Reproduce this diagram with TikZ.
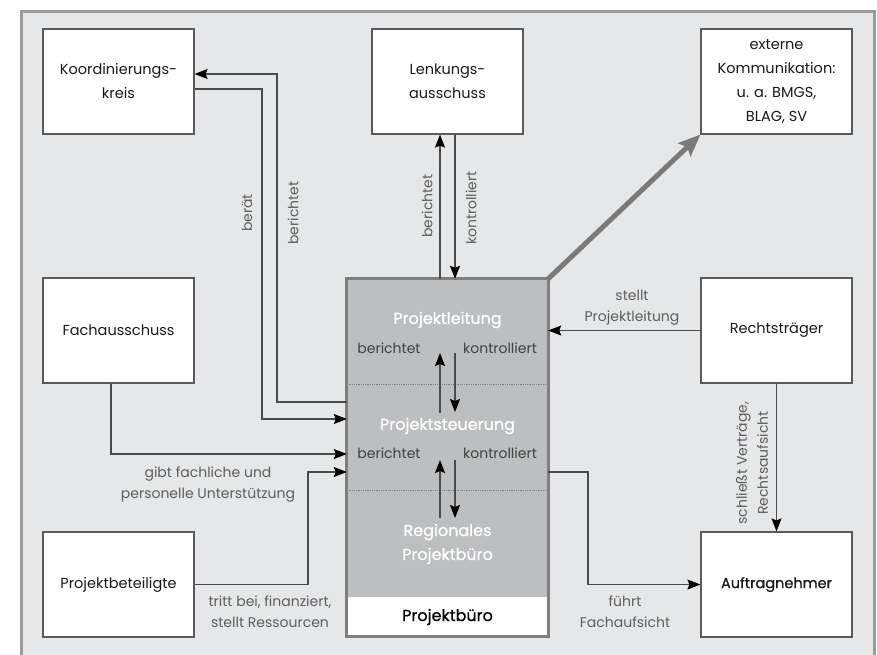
\documentclass[tikz,border=0pt]{standalone}
\usepackage{fontspec}
\setmainfont{Poppins}
\newfontfamily\medfont[FakeBold=0.7]{Poppins}
\usetikzlibrary{arrows.meta,calc}
\definecolor{bgc}{HTML}{E6E7E8}
\definecolor{framec}{HTML}{9B9B9B}
\definecolor{boxc}{HTML}{5A5A5A}
\definecolor{linec}{HTML}{4A4A4A}
\definecolor{labc}{HTML}{5E5E5E}
\definecolor{pbc}{HTML}{BCBEC0}
\definecolor{pbborder}{HTML}{7F7F7F}
\definecolor{thickc}{HTML}{7A7A7A}
\begin{document}
\begin{tikzpicture}[x=1pt,y=-1pt,
  box/.style={draw=boxc,line width=1.2pt,fill=white,minimum width=151pt,minimum height=105pt,inner sep=0pt,align=center,font=\fontsize{14.5}{24}\selectfont,text=black!90},
  conn/.style={draw=linec,line width=1.1pt,-{Stealth[length=13pt,width=10pt,inset=2pt,color=black]}},
  thickarrow/.style={draw=thickc,line width=5pt,-{Stealth[length=22pt,width=18pt,inset=4pt]}},
  lbl/.style={font=\fontsize{14}{21}\selectfont,text=labc,align=center,inner sep=0pt},
  title/.style={font=\medfont\fontsize{16}{24}\selectfont,text=white,align=center,inner sep=0pt},
  sepline/.style={draw=pbborder,line width=0.8pt,densely dotted},
]
\useasboundingbox (0,0) rectangle (877,654);
\clip (0,0) rectangle (877,654);
\fill[white] (0,0) rectangle (877,654);
\draw[draw=framec,fill=bgc,line width=3pt] (21,11) rectangle (874,680);

% outer boxes
\node[box] (kk) at (118.5,81.5) {Koordinierungs-\\kreis};
\node[box] (la) at (447.5,81.5) {Lenkungs-\\ausschuss};
\node[box] (ek) at (776.5,81.5) {externe\\Kommunikation:\\u. a. BMGS,\\BLAG, SV};
\node[box] (fa) at (118.5,330.5) {Fachausschuss};
\node[box] (rt) at (776.5,330.5) {Rechtsträger};
\node[box] (pbt) at (118.5,584.5) {Projektbeteiligte};
\node[box,font=\medfont\fontsize{14.5}{24}\selectfont] (an) at (776.5,584.5) {Auftragnehmer};

% central box
\node[fill=pbc,minimum width=201pt,minimum height=357pt,inner sep=0pt] (pb) at (447.5,457.5) {};
\fill[white] (pb.south west) rectangle ([yshift=39pt]pb.south east);
\coordinate (c384) at (0,384);
\coordinate (c490) at (0,490);
\draw[sepline] (pb.west |- c384) -- (pb.east |- c384);
\draw[sepline] (pb.west |- c490) -- (pb.east |- c490);
\draw[draw=pbborder,line width=3pt] (pb.south west) rectangle (pb.north east);

\node[font=\medfont\fontsize{16}{24}\selectfont,text=black,inner sep=0pt] (pbl) at (447.5,617) {Projektbüro};
\node[title] (pl) at (447.5,320) {Projektleitung};
\node[title] (ps) at (447.5,426) {Projektsteuerung};
\node[title] (rp) at (447.5,544) {Regionales\\Projektbüro};
\node[lbl,text=black!75] (b1) at (389,348) {berichtet};
\node[lbl,text=black!75] (k1) at (500,348) {kontrolliert};
\node[lbl,text=black!75] (b2) at (389,453) {berichtet};
\node[lbl,text=black!75] (k2) at (500,453) {kontrolliert};

% inner arrows
\coordinate (u1a) at (440,413); \coordinate (u1b) at (440,353);
\coordinate (d1a) at (455,353); \coordinate (d1b) at (455,412);
\coordinate (u2a) at (440,518); \coordinate (u2b) at (440,460);
\coordinate (d2a) at (455,460); \coordinate (d2b) at (455,518);
\draw[conn] (u1a) -- (u1b);
\draw[conn] (d1a) -- (d1b);
\draw[conn] (u2a) -- (u2b);
\draw[conn] (d2a) -- (d2b);

% helper coordinates
\coordinate (k74) at (277,74);
\coordinate (k89) at (262,89);
\coordinate (c402) at (0,402);
\coordinate (c419) at (0,419);
\coordinate (c454) at (0,454);
\coordinate (c472) at (0,472);
\coordinate (x440) at (440,0);
\coordinate (x455) at (455,0);
\coordinate (x588) at (588,0);
\coordinate (x111) at (111,0);
\coordinate (x308) at (308,0);

% Koordinierungskreis
\draw[conn] (pb.west |- c402) -| (k74) -- (kk.east |- k74);
\draw[conn] (kk.east |- k89) -- (k89) -- (k89 |- c419) -- (pb.west |- c419);
\node[lbl,rotate=90] (lbera) at (247,213) {berät};
\node[lbl,rotate=90] (lber1) at (293,213) {berichtet};

% Lenkungsausschuss
\draw[conn] (pb.north -| x440) -- (la.south -| x440);
\draw[conn] (la.south -| x455) -- (pb.north -| x455);
\node[lbl,rotate=90] (lber2) at (427,206) {berichtet};
\node[lbl,rotate=90] (lkon) at (471,208) {kontrolliert};

% externe Kommunikation
\draw[thickarrow] (pb.north east) -- (ek.south west);

% Rechtstraeger
\draw[conn] (rt.west) -- (pb.east |- rt.west);
\node[lbl] (lstellt) at (632,308) {stellt\\Projektleitung};
\draw[conn] (rt.south) -- (an.north);
\node[lbl,rotate=90] (lschl) at (752,463) {schließt Verträge,\\Rechtsaufsicht};

% Auftragnehmer
\draw[conn] (pb.east |- c472) -| (x588 |- an.west) -- (an.west);
\node[lbl] (lfuehrt) at (625,612) {führt\\Fachaufsicht};

% Fachausschuss
\draw[conn] (fa.south -| x111) |- (pb.west |- c454);
\node[lbl] (lgibt) at (208,485) {gibt fachliche und\\personelle Unterstützung};

% Projektbeteiligte
\draw[conn] (pbt.east) -| (x308 |- c472) -- (pb.west |- c472);
\node[lbl] (ltritt) at (270,612) {tritt bei, finanziert,\\stellt Ressourcen};
\end{tikzpicture}
\end{document}
